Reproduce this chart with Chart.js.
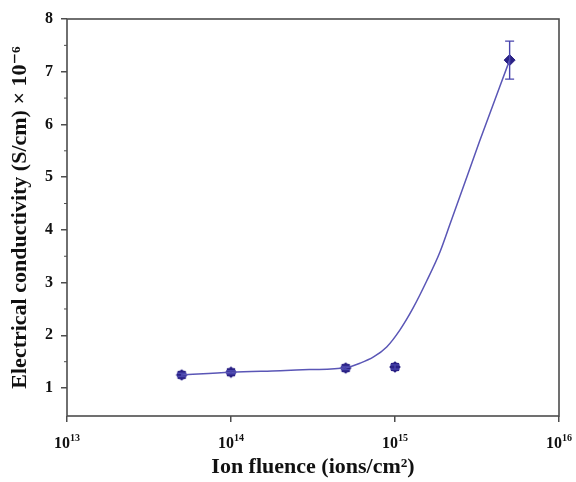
<!DOCTYPE html>
<html>
<head>
<meta charset="utf-8">
<script src="https://cdn.jsdelivr.net/npm/chart.js@4"></script>
<style>
  html, body { margin: 0; padding: 0; background: #fff; }
  #wrap { width: 576px; height: 482px; }
</style>
</head>
<body>
<div id="wrap"><canvas id="chart"></canvas></div>
<script>
// measured conductivity vs ion fluence
const fluence = [5e13, 1e14, 5e14, 1e15, 5e15];
const conductivity = [1.25, 1.30, 1.38, 1.40, 7.22];
const errors = [0.03, 0.03, 0.03, 0.04, 0.36];

// fitted guide curve
const fitFluence = [5e13, 1e14, 2e14, 3e14, 5e14, 6.1e14, 7.4e14, 8.9e14, 1.07e15, 1.29e15, 1.56e15, 1.88e15, 2.16e15, 2.77e15, 3.27e15, 5e15];
const fitValues = [1.25, 1.30, 1.33, 1.35, 1.385, 1.47, 1.59, 1.78, 2.10, 2.52, 3.03, 3.58, 4.10, 5.04, 5.67, 7.22];

const xTicks = [1e13, 1e14, 1e15, 1e16];
const yTicks = [1, 2, 3, 4, 5, 6, 7, 8];
const yMinorTicks = [1.5, 2.5, 3.5, 4.5, 5.5, 6.5, 7.5];

const axisColor = '#4d4d4d';
const markColor = '#2a2185';
const lineColor = '#5a56b6';
const serif = "'Liberation Serif', 'DejaVu Serif', serif";

// small filled cog used as the marker
function cogMarker(r) {
  const c = document.createElement('canvas');
  const s = Math.ceil(r * 2 + 2);
  c.width = s; c.height = s;
  const g = c.getContext('2d');
  g.fillStyle = markColor;
  g.beginPath();
  for (let i = 0; i < 16; i++) {
    const ang = i * Math.PI / 8;
    const rr = i % 2 === 0 ? r : r * 0.8;
    g.lineTo(s / 2 + rr * Math.cos(ang), s / 2 + rr * Math.sin(ang));
  }
  g.closePath();
  g.fill();
  return c;
}
const cog = cogMarker(5.8);

const frame = {
  id: 'frame',
  afterDraw(chart) {
    const { ctx, chartArea: a, scales } = chart;
    ctx.save();
    ctx.strokeStyle = axisColor;
    ctx.lineWidth = 1.6;
    ctx.strokeRect(a.left, a.top, a.right - a.left, a.bottom - a.top);
    // minor ticks on y
    ctx.lineWidth = 1;
    yMinorTicks.forEach(v => {
      const y = scales.y.getPixelForValue(v);
      ctx.beginPath();
      ctx.moveTo(a.left - 3, y);
      ctx.lineTo(a.left, y);
      ctx.stroke();
    });
    // error bars
    ctx.strokeStyle = '#4844ad';
    ctx.lineWidth = 1.4;
    fluence.forEach((f, i) => {
      const x = scales.x.getPixelForValue(f);
      const y1 = scales.y.getPixelForValue(conductivity[i] + errors[i]);
      const y2 = scales.y.getPixelForValue(conductivity[i] - errors[i]);
      ctx.beginPath();
      ctx.moveTo(x, y1); ctx.lineTo(x, y2);
      ctx.moveTo(x - 4.5, y1); ctx.lineTo(x + 4.5, y1);
      ctx.moveTo(x - 4.5, y2); ctx.lineTo(x + 4.5, y2);
      ctx.stroke();
    });
    // x tick labels as 10 with raised exponent
    ctx.fillStyle = '#111';
    ctx.textBaseline = 'alphabetic';
    xTicks.forEach(v => {
      const x = scales.x.getPixelForValue(v);
      const exp = String(Math.round(Math.log10(v)));
      ctx.font = `bold 16px ${serif}`;
      const wBase = ctx.measureText('10').width;
      ctx.font = `bold 10px ${serif}`;
      const wExp = ctx.measureText(exp).width;
      const x0 = x - (wBase + wExp) / 2;
      ctx.font = `bold 16px ${serif}`;
      ctx.fillText('10', x0, 448);
      ctx.font = `bold 10px ${serif}`;
      ctx.fillText(exp, x0 + wBase, 441);
    });
    ctx.restore();
  }
};

new Chart(document.getElementById('chart'), {
  type: 'line',
  data: {
    datasets: [{
      label: 'fit',
      data: fitFluence.map((f, i) => ({ x: f, y: fitValues[i] })),
      borderColor: lineColor,
      borderWidth: 1.5,
      pointRadius: 0,
      cubicInterpolationMode: 'monotone',
      fill: false
    }, {
      label: 'measured',
      data: fluence.map((f, i) => ({ x: f, y: conductivity[i] })),
      showLine: false,
      pointStyle: [cog, cog, cog, cog, 'rectRot'],
      pointRadius: [6, 6, 6, 6, 5.5],
      pointBackgroundColor: markColor,
      pointBorderColor: markColor,
      pointBorderWidth: 1
    }]
  },
  options: {
    responsive: true,
    maintainAspectRatio: false,
    animation: false,
    layout: { padding: { left: 0, right: 17, top: 19, bottom: 0 } },
    plugins: { legend: { display: false }, tooltip: { enabled: false } },
    scales: {
      x: {
        type: 'logarithmic',
        min: 1e13,
        max: 1e16,
        afterBuildTicks: s => { s.ticks = xTicks.map(v => ({ value: v })); },
        afterFit: s => { s.height = 66; },
        border: { display: false },
        grid: { drawOnChartArea: false, color: axisColor, lineWidth: 1.5, tickLength: 6 },
        ticks: { display: false },
        title: {
          display: true, text: 'Ion fluence (ions/cm²)', color: '#111',
          font: { family: serif, size: 22, weight: 'bold' },
          padding: { top: 2, bottom: 1 }
        }
      },
      y: {
        min: 0.47,
        max: 8,
        afterBuildTicks: s => { s.ticks = yTicks.map(v => ({ value: v })); },
        afterFit: s => { s.width = 67; },
        border: { display: false },
        grid: { drawOnChartArea: false, color: axisColor, lineWidth: 1.5, tickLength: 6 },
        ticks: {
          color: '#111', padding: 8,
          font: { family: serif, size: 16, weight: 'bold' }
        },
        title: {
          display: true, text: 'Electrical conductivity (S/cm) × 10⁻⁶', color: '#111',
          font: { family: serif, size: 22, weight: 'bold' },
          padding: { top: 7, bottom: 0 }
        }
      }
    }
  },
  plugins: [frame]
});
</script>
</body>
</html>
